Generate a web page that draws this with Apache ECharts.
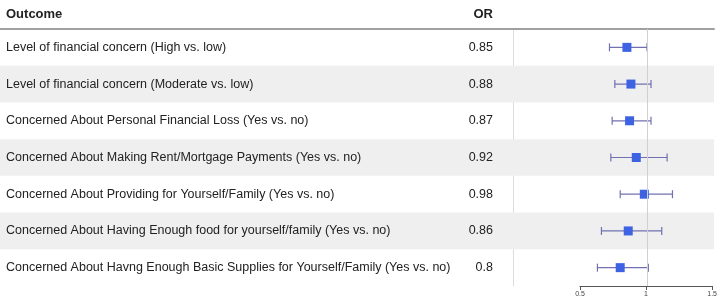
<!DOCTYPE html>
<html><head><meta charset="utf-8">
<script src="https://cdn.jsdelivr.net/npm/echarts@6/dist/echarts.min.js"></script>
<style>html,body{margin:0;padding:0;background:#fff}#c{width:720px;height:306px}</style>
</head><body><div id="c"></div>
<script>
var outcomes = [
  "Level of financial concern (High vs. low)",
  "Level of financial concern (Moderate vs. low)",
  "Concerned About Personal Financial Loss (Yes vs. no)",
  "Concerned About Making Rent/Mortgage Payments (Yes vs. no)",
  "Concerned About Providing for Yourself/Family (Yes vs. no)",
  "Concerned About Having Enough food for yourself/family (Yes vs. no)",
  "Concerned About Havng Enough Basic Supplies for Yourself/Family (Yes vs. no)"
];
var orLabels = ["0.85", "0.88", "0.87", "0.92", "0.98", "0.86", "0.8"];
var orValues = [0.85, 0.88, 0.87, 0.92, 0.98, 0.86, 0.80];
var ciLow  = [0.72, 0.76, 0.74, 0.73, 0.80, 0.66, 0.63];
var ciHigh = [1.00, 1.03, 1.03, 1.15, 1.19, 1.11, 1.01];
var axisTicks = [0.5, 1, 1.5];
var stripe = outcomes.map(function(_, i){ return i % 2 === 1 ? 1 : 0; });

var FONT = "Liberation Sans, Arial, sans-serif";
var chart = echarts.init(document.getElementById('c'), null, {renderer:'canvas'});

var ciData = outcomes.map(function(c, i){ return [ciLow[i], ciHigh[i], c]; });
var ptData = outcomes.map(function(c, i){ return [orValues[i], c]; });

chart.setOption({
  animation: false,
  textStyle: {fontFamily: FONT},
  title: [
    {text: 'Outcome', left: 6, top: 8, padding: 0, textStyle: {fontFamily: FONT, fontSize: 13, fontWeight: 'bold', color: '#222'}},
    {text: 'OR', right: 720 - 493, top: 8, padding: 0, textStyle: {fontFamily: FONT, fontSize: 13, fontWeight: 'bold', color: '#222'}}
  ],
  grid: [
    {left: 0, width: 714, top: 29, height: 257},
    {left: 0, width: 493, top: 29, height: 257},
    {left: 513, width: 201, top: 29, height: 257},
    {left: 580, width: 134, top: 29, height: 257}
  ],
  xAxis: [
    {gridIndex: 0, type: 'value', min: 0, max: 1, position: 'top', show: true,
     axisLine: {show: true, onZero: false, lineStyle: {color: '#a0a0a0', width: 2}},
     axisTick: {show: false}, axisLabel: {show: false}, splitLine: {show: false}},
    {gridIndex: 1, type: 'value', min: 0, max: 1, show: false},
    {gridIndex: 2, type: 'value', min: 0, max: 1.5, show: false},
    {gridIndex: 3, type: 'value', min: 0.5, max: 1.5, interval: 0.5, position: 'bottom',
     axisLine: {show: true, onZero: false, lineStyle: {color: '#555', width: 1}},
     axisTick: {show: true, length: 4, lineStyle: {color: '#555'}},
     axisLabel: {fontSize: 7, color: '#444', margin: 5, fontFamily: FONT,
       formatter: function(v){ return String(v); }},
     splitLine: {show: false}}
  ],
  yAxis: [
    {gridIndex: 0, type: 'category', data: outcomes, inverse: true,
     axisLine: {show: false}, axisTick: {show: false},
     axisLabel: {inside: true, align: 'left', margin: 6, fontSize: 12.5, color: '#222', fontFamily: FONT, padding: [2, 0, 0, 0]}},
    {gridIndex: 1, type: 'category', data: orLabels, inverse: true, position: 'right',
     axisLine: {show: false}, axisTick: {show: false},
     axisLabel: {inside: true, align: 'right', margin: 0, fontSize: 12.5, color: '#222', fontFamily: FONT, padding: [2, 0, 0, 0]}},
    {gridIndex: 2, type: 'category', data: outcomes, inverse: true,
     axisLine: {show: true, lineStyle: {color: '#dcdcdc', width: 1}},
     axisTick: {show: false}, axisLabel: {show: false}},
    {gridIndex: 3, type: 'category', data: outcomes, inverse: true, show: false}
  ],
  series: [
    {type: 'bar', xAxisIndex: 0, yAxisIndex: 0, data: stripe, barWidth: '100%',
     itemStyle: {color: '#efefef'}, silent: true, z: 0},
    {type: 'custom', xAxisIndex: 2, yAxisIndex: 2, data: ciData, z: 3,
     markLine: {silent: true, symbol: 'none', label: {show: false},
       lineStyle: {color: '#d0d0d0', type: 'solid', width: 1}, data: [{xAxis: 1}]},
     renderItem: function(params, api){
       var lo = api.coord([api.value(0), api.value(2)]);
       var hi = api.coord([api.value(1), api.value(2)]);
       var h = 4;
       var st = {stroke: '#7070b2', lineWidth: 1.2};
       return {type: 'group', children: [
         {type: 'line', shape: {x1: lo[0], y1: lo[1], x2: hi[0], y2: hi[1]}, style: st},
         {type: 'line', shape: {x1: lo[0], y1: lo[1]-h, x2: lo[0], y2: lo[1]+h}, style: st},
         {type: 'line', shape: {x1: hi[0], y1: hi[1]-h, x2: hi[0], y2: hi[1]+h}, style: st}
       ]};
     }},
    {type: 'scatter', xAxisIndex: 2, yAxisIndex: 2, data: ptData, symbol: 'rect', symbolSize: 9,
     itemStyle: {color: '#3d63e3', opacity: 1}, z: 4}
  ]
});
</script></body></html>
